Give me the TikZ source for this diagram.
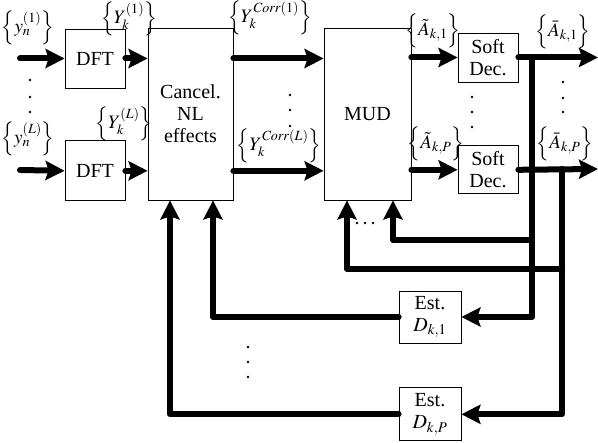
\documentclass[tikz,border=0pt]{standalone}
\usepackage{mathptmx}
\usepackage[no-math]{fontspec}
\setmainfont{Liberation Serif}
\usetikzlibrary{arrows.meta, positioning, calc}

\begin{document}
\begin{tikzpicture}[x=1pt, y=1pt,
    font=\fontsize{20}{22}\selectfont,
    block/.style={rectangle, draw, line width=0.8pt, fill=white, align=center, inner sep=0pt},
    signal/.style={line width=6pt, line join=round, line cap=round,
                   -{Stealth[length=19pt, width=19pt, inset=3pt]}},
    sig label/.style={inner sep=0pt, font=\fontsize{19}{21}\selectfont},
]
    \fill[white] (0,0) rectangle (598,-443);
    \useasboundingbox (0,0) rectangle (598,-443);

    % ── Front end ──
    \node[block, minimum width=60pt, minimum height=59pt] (dftA) at (95,-58.5) {DFT};
    \node[block, minimum width=60pt, minimum height=60pt, below=52pt of dftA] (dftB) {DFT};
    \node[block, minimum width=85pt, minimum height=172pt] (cancel) at (190.5,-114) {Cancel.\\NL\\effects};

    \coordinate (inA) at (20,-58.5);
    \coordinate (inB) at (20,-170);

    \draw[signal] (inA) -- (dftA.west);
    \draw[signal] (inB) -- (dftB.west);
    \draw[signal] (dftA.east) -- (dftA.east -| cancel.west);
    \draw[signal] (dftB.east) -- (dftB.east -| cancel.west);

    \node[sig label] (ynA) at (28,-28) {$\Big\{y_n^{(1)}\Big\}$};
    \node[sig label] (ynB) at (28,-139) {$\Big\{y_n^{(L)}\Big\}$};
    \node[sig label] (YkA) at (129,-19) {$\Big\{Y_k^{(1)}\Big\}$};
    \node[sig label] (YkB) at (124,-124) {$\Big\{Y_k^{(L)}\Big\}$};

    % ── Multi-user detection ──
    \node[block, minimum width=87pt, minimum height=172pt] (mud) at (367.5,-114) {MUD};

    \draw[signal] (cancel.east |- dftA) -- (mud.west |- dftA);
    \draw[signal] (cancel.east |- dftB) -- (mud.west |- dftB);

    \node[sig label] (corrA) at (270,-18) {$\Big\{Y_k^{\mathit{Corr}(1)}\Big\}$};
    \node[sig label] (corrB) at (279,-146) {$\Big\{Y_k^{\mathit{Corr}(L)}\Big\}$};

    % ── Soft decisions ──
    \node[block, minimum width=60pt, minimum height=49pt] (softA) at (488,-57.5) {Soft\\Dec.};
    \node[block, minimum width=60pt, minimum height=48pt, below=63pt of softA] (softB) {Soft\\Dec.};

    \draw[signal] (mud.east |- softA) -- (softA.west);
    \draw[signal] (mud.east |- softB) -- (softB.west);

    \coordinate (outA) at (598,-57.5);
    \coordinate (outB) at (598,-169);
    \draw[signal] (softA.east) -- (outA);
    \draw[signal] (softB.east) -- (outB);

    \node[sig label] (AtA) at (433,-31) {$\Big\{\tilde{A}_{k,1}\Big\}$};
    \node[sig label] (AtB) at (436,-144) {$\Big\{\tilde{A}_{k,P}\Big\}$};
    \node[sig label] (AbA) at (563,-32) {$\Big\{\bar{A}_{k,1}\Big\}$};
    \node[sig label] (AbB) at (565,-144) {$\Big\{\bar{A}_{k,P}\Big\}$};

    % ── Feedback ──
    \node[block, minimum width=62pt, minimum height=52pt] (estA) at (430,-317) {Est.\\$D_{k,1}$};
    \node[block, minimum width=62pt, minimum height=53pt, below=44pt of estA] (estB) {Est.\\$D_{k,P}$};

    \coordinate (tapA) at (532,-57.5);
    \coordinate (tapB) at (562,-169);

    \draw[signal] (tapA) |- (estA.east);
    \draw[signal] (tapB) |- (estB.east);
    \draw[signal] (tapA |- 0,-240) -| ([xshift=25.5pt]mud.south);
    \draw[signal] (tapB |- 0,-269) -| ([xshift=-20.5pt]mud.south);
    \draw[signal] (estA.west) -| ([xshift=22.5pt]cancel.south);
    \draw[signal] (estB.west) -| ([xshift=-20.5pt]cancel.south);

    % dots
    \foreach \x/\y in {30/80, 30/97, 30/112, 290/95, 290/110, 290/126,
                       472/97, 472/112, 472/127, 563/82, 563/98, 563/112,
                       248/347, 248/362, 248/377, 357/223, 365/223, 373/223}
        \fill (\x,-\y) circle[radius=1.4pt];

\end{tikzpicture}
\end{document}
